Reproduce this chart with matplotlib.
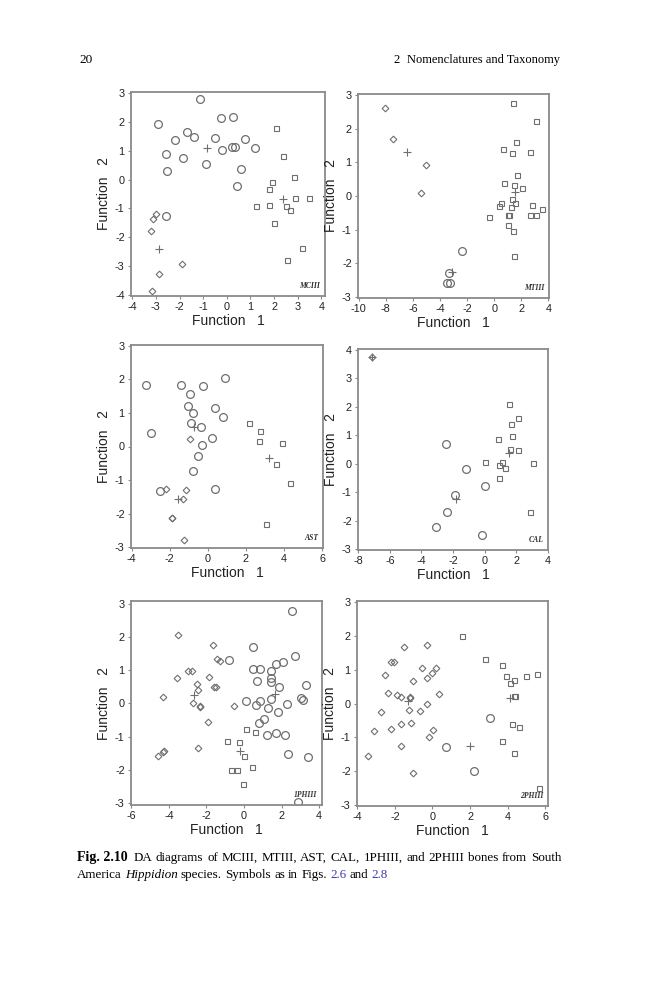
import numpy as np
import matplotlib.pyplot as plt

plt.rcParams['font.family'] = ['Liberation Sans', 'DejaVu Sans']
plt.rcParams['axes.unicode_minus'] = False

# MCIII
MCIII_CIRCLE_X = [-1.14, -2.90, -1.70, -1.39, -2.17, -2.58, -1.86, -2.54, -0.86, -0.23,
                  0.28, -0.51, -0.20, 0.21, 0.34, 0.77, 1.18, 0.62, 0.44, -2.58]
MCIII_CIRCLE_Y = [2.80, 1.93, 1.65, 1.48, 1.37, 0.88, 0.76, 0.30, 0.53, 2.14,
                  2.18, 1.44, 1.03, 1.14, 1.12, 1.42, 1.11, 0.36, -0.21, -1.25]
MCIII_DIAMOND_X = [-3.00, -3.10, -3.21, -2.87, -1.89, -3.18]
MCIII_DIAMOND_Y = [-1.21, -1.38, -1.77, -3.29, -2.93, -3.88]
MCIII_SQUARE_X = [2.06, 2.38, 2.86, 1.89, 1.77, 1.25, 1.77, 2.51, 2.66, 2.89, 3.48, 1.99, 3.18, 2.55]
MCIII_SQUARE_Y = [1.80, 0.81, 0.09, -0.08, -0.31, -0.90, -0.89, -0.93, -1.05, -0.63, -0.64, -1.49, -2.39, -2.80]
MCIII_CENTROID_X = [-0.83, -2.86, 2.37]
MCIII_CENTROID_Y = [1.09, -2.41, -0.68]

# MTIII
MTIII_CIRCLE_X = [-2.35, -3.30, -3.47, -3.28]
MTIII_CIRCLE_Y = [-1.63, -2.30, -2.58, -2.59]
MTIII_DIAMOND_X = [-8.08, -7.47, -5.01, -5.37]
MTIII_DIAMOND_Y = [2.60, 1.68, 0.91, 0.10]
MTIII_SQUARE_X = [1.37, 3.12, 1.64, 0.66, 1.32, 2.66, 1.71, 0.76, 1.47, 2.06, 1.30, 1.57, 0.54,
                  0.37, 1.27, 2.78, 1.08, 1.00, 2.64, 3.12, 3.54, -0.36, 1.05, 1.42, 1.49]
MTIII_SQUARE_Y = [2.75, 2.24, 1.61, 1.39, 1.27, 1.31, 0.63, 0.39, 0.34, 0.24, -0.10, -0.21, -0.21,
                  -0.31, -0.33, -0.27, -0.56, -0.56, -0.55, -0.55, -0.40, -0.62, -0.85, -1.05, -1.77]
MTIII_CENTROID_X = [-3.13, -6.45, 1.57]
MTIII_CENTROID_Y = [-2.26, 1.32, 0.13]

# AST
AST_CIRCLE_X = [-3.26, -1.39, -0.25, 0.91, -0.95, -1.04, -0.77, 0.39, 0.82, -0.88,
                -0.37, 0.21, -0.28, -0.49, -2.98, -0.79, 0.37, -2.49]
AST_CIRCLE_Y = [1.82, 1.82, 1.80, 2.04, 1.55, 1.21, 1.00, 1.14, 0.87, 0.71,
                0.57, 0.25, 0.04, -0.27, 0.41, -0.74, -1.26, -1.32]
AST_DIAMOND_X = [-0.95, -2.21, -1.16, -1.30, -1.88, -1.87, -1.25]
AST_DIAMOND_Y = [0.23, -1.26, -1.28, -1.55, -2.13, -2.12, -2.79]
AST_SQUARE_X = [2.16, 2.72, 2.70, 3.89, 3.58, 4.32, 3.05]
AST_SQUARE_Y = [0.70, 0.45, 0.17, 0.10, -0.52, -1.09, -2.30]
AST_CENTROID_X = [-0.72, -1.54, 3.21]
AST_CENTROID_Y = [0.59, -1.57, -0.35]

# CAL
CAL_CIRCLE_X = [-2.42, -1.20, 0.02, -1.89, -2.38, -3.05, -0.17]
CAL_CIRCLE_Y = [0.68, -0.18, -0.77, -1.11, -1.68, -2.20, -2.50]
CAL_DIAMOND_X = [-7.14]
CAL_DIAMOND_Y = [3.73]
CAL_SQUARE_X = [1.58, 2.13, 1.68, 1.75, 0.86, 1.64, 2.13, 0.05, 1.12, 0.91, 1.31, 3.07, 0.91, 2.86]
CAL_SQUARE_Y = [2.10, 1.59, 1.39, 0.99, 0.87, 0.52, 0.47, 0.07, 0.05, -0.05, -0.14, 0.04, -0.49, -1.68]
CAL_CENTROID_X = [-1.79, -7.14, 1.52]
CAL_CENTROID_Y = [-1.23, 3.73, 0.37]

# 1PHIII
PH1_CIRCLE_X = [2.53, 0.48, 2.71, -0.80, 0.48, 0.87, 1.43, 1.72, 2.05, 1.42, 1.42, 0.71, 1.84, 3.29,
                1.43, 3.04, 3.12, 0.09, 0.87, 0.64, 2.30, 1.27, 1.82, 1.08, 0.78, 1.22, 1.72, 2.18,
                2.34, 3.40, 2.87]
PH1_CIRCLE_Y = [2.79, 1.69, 1.42, 1.30, 1.05, 1.05, 0.98, 1.19, 1.25, 0.77, 0.64, 0.68, 0.51, 0.57,
                0.15, 0.18, 0.10, 0.09, 0.07, -0.04, -0.01, -0.15, -0.26, -0.48, -0.60, -0.96, -0.89,
                -0.95, -1.53, -1.60, -2.97]
PH1_DIAMOND_X = [-3.54, -1.68, -1.45, -1.26, -2.97, -2.76, -3.56, -1.86, -2.51, -1.59, -1.52,
                 -2.44, -4.30, -2.73, -2.37, -2.34, -0.55, -1.93, -2.46, -4.60, -4.32, -4.25]
PH1_DIAMOND_Y = [2.05, 1.75, 1.35, 1.28, 0.97, 0.97, 0.78, 0.80, 0.59, 0.50, 0.49,
                 0.41, 0.21, 0.01, -0.09, -0.11, -0.09, -0.57, -1.33, -1.58, -1.47, -1.44]
PH1_SQUARE_X = [0.12, 0.60, -0.90, -0.25, 0.02, -0.71, -0.39, 0.42, -0.04]
PH1_SQUARE_Y = [-0.77, -0.85, -1.14, -1.17, -1.57, -2.01, -2.00, -1.90, -2.43]
PH1_CENTROID_X = [1.63, -2.65, -0.19]
PH1_CENTROID_Y = [0.30, 0.26, -1.43]

# 2PHIII
PH2_CIRCLE_X = [3.06, 0.71, 2.23]
PH2_CIRCLE_Y = [-0.44, -1.30, -2.01]
PH2_DIAMOND_X = [-1.52, -0.30, -2.19, -2.07, -2.53, -0.57, 0.16, -0.04, -0.28, -1.06, -2.39, -1.88,
                 -1.66, -1.20, -1.18, 0.35, -1.26, -0.28, -0.65, -2.76, -1.17, -1.66, -2.23, -3.13,
                 0.02, -0.18, -1.70, -3.42, -1.06]
PH2_DIAMOND_Y = [1.66, 1.72, 1.22, 1.24, 0.84, 1.05, 1.06, 0.91, 0.76, 0.66, 0.30, 0.26,
                 0.18, 0.18, 0.16, 0.27, -0.19, -0.01, -0.22, -0.25, -0.59, -0.61, -0.74, -0.80,
                 -0.77, -0.99, -1.26, -1.54, -2.04]
PH2_SQUARE_X = [1.58, 2.81, 3.70, 3.89, 4.11, 4.34, 4.96, 5.58, 4.34, 4.37, 4.25, 4.62, 3.70, 4.35, 5.68]
PH2_SQUARE_Y = [1.99, 1.33, 1.13, 0.80, 0.62, 0.70, 0.80, 0.88, 0.23, 0.22, -0.62, -0.68, -1.10, -1.46, -2.49]
PH2_CENTROID_X = [1.98, -1.29, 4.12]
PH2_CENTROID_Y = [-1.25, 0.06, 0.16]

panels = [
    dict(name='MCIII', box=(131, 325, 92, 296), xlim=(-4.05, 4.15), ylim=(-4.04, 3.04),
         xticks=np.arange(-4, 5, 1), yticks=np.arange(-4, 4, 1),
         circ=(MCIII_CIRCLE_X, MCIII_CIRCLE_Y), diam=(MCIII_DIAMOND_X, MCIII_DIAMOND_Y),
         sq=(MCIII_SQUARE_X, MCIII_SQUARE_Y), cen=(MCIII_CENTROID_X, MCIII_CENTROID_Y)),
    dict(name='MTIII', box=(358, 549, 94, 298), xlim=(-10.05, 4.05), ylim=(-3.03, 3.03),
         xticks=np.arange(-10, 5, 2), yticks=np.arange(-3, 4, 1),
         circ=(MTIII_CIRCLE_X, MTIII_CIRCLE_Y), diam=(MTIII_DIAMOND_X, MTIII_DIAMOND_Y),
         sq=(MTIII_SQUARE_X, MTIII_SQUARE_Y), cen=(MTIII_CENTROID_X, MTIII_CENTROID_Y)),
    dict(name='AST', box=(131, 323, 345, 548), xlim=(-4.03, 6.05), ylim=(-3.02, 3.02),
         xticks=np.arange(-4, 7, 2), yticks=np.arange(-3, 4, 1),
         circ=(AST_CIRCLE_X, AST_CIRCLE_Y), diam=(AST_DIAMOND_X, AST_DIAMOND_Y),
         sq=(AST_SQUARE_X, AST_SQUARE_Y), cen=(AST_CENTROID_X, AST_CENTROID_Y)),
    dict(name='CAL', box=(358, 548, 349, 550), xlim=(-8.02, 4.02), ylim=(-3.02, 4.02),
         xticks=np.arange(-8, 5, 2), yticks=np.arange(-3, 5, 1),
         circ=(CAL_CIRCLE_X, CAL_CIRCLE_Y), diam=(CAL_DIAMOND_X, CAL_DIAMOND_Y),
         sq=(CAL_SQUARE_X, CAL_SQUARE_Y), cen=(CAL_CENTROID_X, CAL_CENTROID_Y)),
    dict(name='1PHIII', box=(131, 322, 601, 805), xlim=(-6.02, 4.15), ylim=(-3.05, 3.08),
         xticks=np.arange(-6, 5, 2), yticks=np.arange(-3, 4, 1),
         circ=(PH1_CIRCLE_X, PH1_CIRCLE_Y), diam=(PH1_DIAMOND_X, PH1_DIAMOND_Y),
         sq=(PH1_SQUARE_X, PH1_SQUARE_Y), cen=(PH1_CENTROID_X, PH1_CENTROID_Y)),
    dict(name='2PHIII', box=(357, 548, 601, 806), xlim=(-4.02, 6.15), ylim=(-3.03, 3.03),
         xticks=np.arange(-4, 7, 2), yticks=np.arange(-3, 4, 1),
         circ=(PH2_CIRCLE_X, PH2_CIRCLE_Y), diam=(PH2_DIAMOND_X, PH2_DIAMOND_Y),
         sq=(PH2_SQUARE_X, PH2_SQUARE_Y), cen=(PH2_CENTROID_X, PH2_CENTROID_Y)),
]

W, H = 659, 1000
fig = plt.figure(figsize=(W / 100, H / 100), dpi=100)
fig.patch.set_facecolor('white')

mk = '#6e6e6e'
frame = '#8a8a8a'

for p in panels:
    l, r, t, b = p['box']
    ax = fig.add_axes([l / W, 1 - b / H, (r - l) / W, (b - t) / H])
    ax.plot(*p['circ'], 'o', ms=5.6, mfc='none', mec=mk, mew=0.9, ls='none')
    ax.plot(*p['diam'], 'D', ms=3.4, mfc='none', mec=mk, mew=0.8, ls='none')
    ax.plot(*p['sq'], 's', ms=3.6, mfc='none', mec=mk, mew=0.8, ls='none')
    ax.plot(*p['cen'], '+', ms=6, mec=mk, mew=0.8, ls='none')
    ax.set_xlim(p['xlim'])
    ax.set_ylim(p['ylim'])
    ax.set_xticks(p['xticks'])
    ax.set_yticks(p['yticks'])
    ax.tick_params(direction='out', length=2.5, width=0.8, color=frame,
                   labelsize=7.8, pad=2, labelcolor='#222222')
    for s in ax.spines.values():
        s.set_color(frame)
        s.set_linewidth(1.3)
    ax.set_xlabel('Function   1', fontsize=10, labelpad=1, color='#222222')
    ax.set_ylabel('Function   2', fontsize=10, labelpad=3, color='#222222')
    ax.text(0.975, 0.03, p['name'], transform=ax.transAxes, ha='right', va='bottom',
            fontsize=5.5, fontweight='bold', style='italic',
            family=['Liberation Serif', 'DejaVu Serif'], color='#333333')

serif = ['Liberation Serif', 'DejaVu Serif']
fig.text(79 / W, 1 - 60 / H, '20', fontsize=9.5, family=serif, va='center', ha='left')
fig.text(393 / W, 1 - 60 / H, '2', fontsize=9.2, family=serif, va='center', ha='left')
fig.text(560 / W, 1 - 60 / H, 'Nomenclatures and Taxonomy', fontsize=9.0,
         family=serif, va='center', ha='right')

# caption, first line justified
fs = 9.4
renderer = fig.canvas.get_renderer()
x0, x1 = 77, 561
y_line1 = 1 - 858 / H
y_line2 = 1 - 875 / H
fig_lab = fig.text(x0 / W, y_line1, 'Fig. 2.10', fontsize=10.0, family=serif,
                   fontweight='bold', va='center', ha='left')
start = x0 + fig_lab.get_window_extent(renderer).width + 6
words1 = 'DA diagrams of MCIII, MTIII, AST, CAL, 1PHIII, and 2PHIII bones from South'.split()
arts = [fig.text(0, y_line1, w, fontsize=fs, family=serif, va='center', ha='left')
        for w in words1]
widths = [a.get_window_extent(renderer).width for a in arts]
gap = (x1 - start - sum(widths)) / (len(arts) - 1)
xpos = start
for a, wd in zip(arts, widths):
    a.set_x(xpos / W)
    xpos += wd + gap

space = fs * 0.25 * 100 / 72

pieces2 = [('America', 'normal', 'black'), ('Hippidion', 'italic', 'black'),
           ('species.', 'normal', 'black'), ('Symbols', 'normal', 'black'),
           ('as', 'normal', 'black'), ('in', 'normal', 'black'), ('Figs.', 'normal', 'black'),
           ('2.6', 'normal', '#3a3aa8'), ('and', 'normal', 'black'), ('2.8', 'normal', '#3a3aa8')]
xpos = x0
for w, st, c in pieces2:
    a = fig.text(xpos / W, y_line2, w, fontsize=fs, family=serif, style=st, color=c,
                 va='center', ha='left')
    xpos += a.get_window_extent(renderer).width + space

fig.savefig('out.png', dpi=100, facecolor='white')
